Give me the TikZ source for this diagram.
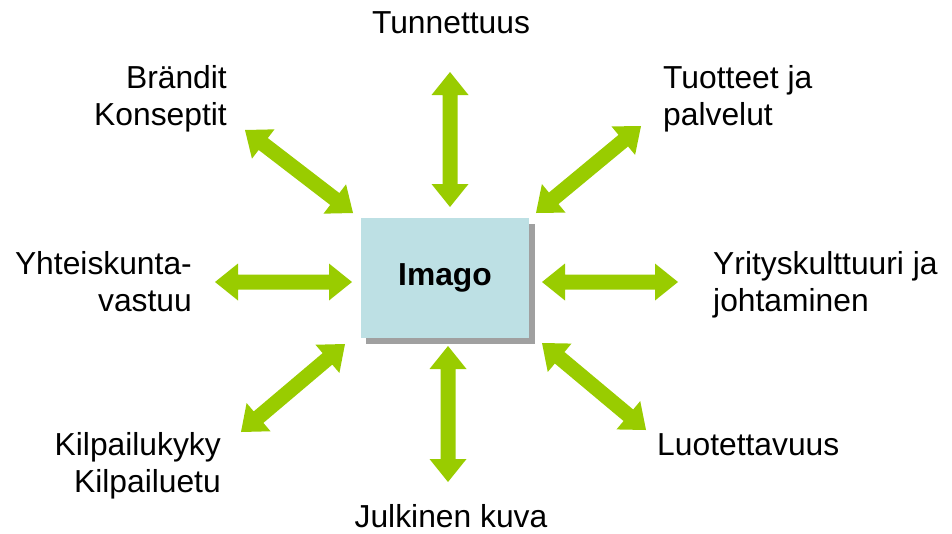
\documentclass[tikz,border=0pt]{standalone}
\usepackage{fontspec}
\setmainfont{Liberation Sans}
\usetikzlibrary{calc}
\definecolor{arrowgreen}{RGB}{153,204,0}
\definecolor{boxblue}{RGB}{189,224,228}
\definecolor{shadowgray}{RGB}{160,160,160}
\newcommand{\biarrow}[2]{%
  \coordinate (#1-h) at ($(#1)!23pt!(#2)$);
  \coordinate (#2-h) at ($(#2)!23pt!(#1)$);
  \fill[arrowgreen] (#1)
    -- ($(#1-h)!18.5pt!90:(#2)$) -- ($(#1-h)!7.5pt!90:(#2)$)
    -- ($(#2-h)!7.5pt!-90:(#1)$) -- ($(#2-h)!18.5pt!-90:(#1)$)
    -- (#2)
    -- ($(#2-h)!18.5pt!90:(#1)$) -- ($(#2-h)!7.5pt!90:(#1)$)
    -- ($(#1-h)!7.5pt!-90:(#2)$) -- ($(#1-h)!18.5pt!-90:(#2)$)
    -- cycle;}
\begin{document}
\begin{tikzpicture}[x=1pt,y=-1pt,
  lbl/.style={inner sep=0pt,font=\fontsize{31.8}{37}\selectfont},
  lblr/.style={lbl,align=right,anchor=base east},
  lbll/.style={lbl,align=left,anchor=base west}]
\useasboundingbox (0,0) rectangle (952,533);
% central box with shadow
\fill[shadowgray] (366,224) rectangle (535,344);
\node[fill=boxblue,minimum width=168pt,minimum height=120pt,inner sep=0pt,
  font=\fontsize{31.8}{37}\selectfont\bfseries] (imago) at (445,278) {Imago};
% labels (base anchor = baseline of last line)
\node[lbl,anchor=base] (tunn) at (451,33) {Tunnettuus};
\node[lblr] (brand) at (227,125) {Brändit\\Konseptit};
\node[lbll] (tuot) at (663,125) {Tuotteet ja\\palvelut};
\node[lblr] (yht) at (192,311) {Yhteiskunta-\\vastuu};
\node[lbll] (yrit) at (713,311) {Yrityskulttuuri ja\\johtaminen};
\node[lblr] (kilp) at (221,492) {Kilpailukyky\\Kilpailuetu};
\node[lbl,anchor=base west] (luot) at (657,455) {Luotettavuus};
\node[lbl,anchor=base] (julk) at (451,527) {Julkinen kuva};
% arrow end points
\coordinate (t1) at (450,72);  \coordinate (t2) at (450,207);
\coordinate (b1) at (448,346); \coordinate (b2) at (448,482);
\coordinate (l1) at (215,282); \coordinate (l2) at (352,282);
\coordinate (r1) at (542,282); \coordinate (r2) at (678,282);
\coordinate (ul1) at (245,130); \coordinate (ul2) at (353,213);
\coordinate (ur1) at (641,126); \coordinate (ur2) at (536,213);
\coordinate (ll1) at (241,432); \coordinate (ll2) at (345,344);
\coordinate (lr1) at (646,430); \coordinate (lr2) at (542,343);
\biarrow{t1}{t2}
\biarrow{b1}{b2}
\biarrow{l1}{l2}
\biarrow{r1}{r2}
\biarrow{ul1}{ul2}
\biarrow{ur1}{ur2}
\biarrow{ll1}{ll2}
\biarrow{lr1}{lr2}
\end{tikzpicture}
\end{document}
